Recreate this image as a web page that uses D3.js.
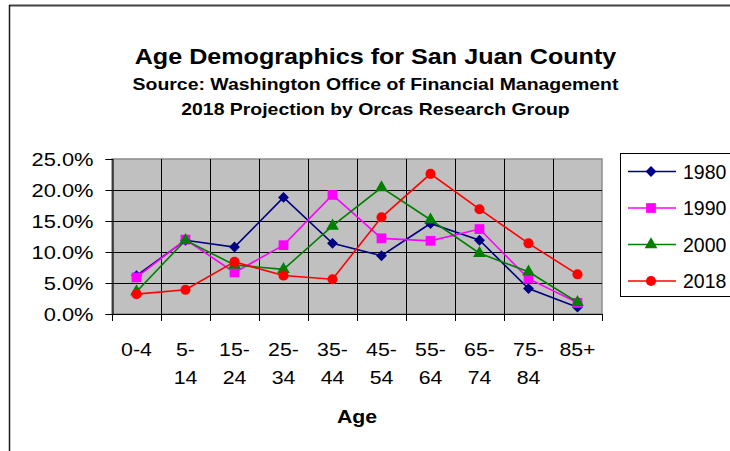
<!DOCTYPE html>
<html>
<head>
<meta charset="utf-8">
<script src="https://cdn.jsdelivr.net/npm/d3@7"></script>
<style>
  body { margin: 0; background: #fff; }
  text { font-family: "Liberation Sans", Arial, sans-serif; fill: #000; }
</style>
</head>
<body>
<script>
//chart data
var ageGroups = ["0-4", "5-14", "15-24", "25-34", "35-44", "45-54", "55-64", "65-74", "75-84", "85+"];
var years = ["1980", "1990", "2000", "2018"];
var pct1980 = [6.2, 11.9, 10.8, 18.8, 11.4, 9.4, 14.6, 11.9, 4.1, 1.1];
var pct1990 = [5.9, 12.0, 6.7, 11.1, 19.2, 12.2, 11.8, 13.7, 5.7, 1.8];
var pct2000 = [3.6, 11.9, 7.9, 7.2, 14.2, 20.4, 15.2, 9.8, 6.8, 1.9];
var pct2018 = [3.2, 3.9, 8.4, 6.2, 5.6, 15.6, 22.6, 16.9, 11.4, 6.4];
var yTicks = [0, 0.05, 0.10, 0.15, 0.20, 0.25];

//square diamond (rotated square) if this d3 build has it
var diamond = d3.symbolDiamond2 || d3.symbolDiamond;

var seriesList = [
    {name: years[0], values: pct1980, color: "#000080", shape: diamond},
    {name: years[1], values: pct1990, color: "#ff00ff", shape: d3.symbolSquare},
    {name: years[2], values: pct2000, color: "#008000", shape: d3.symbolTriangle},
    {name: years[3], values: pct2018, color: "#ff0000", shape: d3.symbolCircle}
];

var width = 730,
    height = 451;

var svg = d3.select("body")
    .append("svg")
    .attr("width", width)
    .attr("height", height);

//the reference font is drawn wider than Arial, so widen glyphs a little
function stretch(sel, factor){
    sel.each(function(){
        var len = this.getComputedTextLength();
        d3.select(this)
            .attr("textLength", len * factor)
            .attr("lengthAdjust", "spacingAndGlyphs");
    });
}

//chart frame (only top and left edges show in the crop)
svg.append("line")
    .attr("x1", 9).attr("x2", width)
    .attr("y1", 5.5).attr("y2", 5.5)
    .attr("stroke", "#404040").attr("stroke-width", 2);
svg.append("line")
    .attr("x1", 9.5).attr("x2", 9.5)
    .attr("y1", 5).attr("y2", height)
    .attr("stroke", "#1a1a1a").attr("stroke-width", 1.5);

//titles
var titles = [
    {t: "Age Demographics for San Juan County", y: 63.5, size: 22},
    {t: "Source: Washington Office of Financial Management", y: 90, size: 17},
    {t: "2018 Projection by Orcas Research Group", y: 115, size: 17}
];
svg.selectAll(".title")
    .data(titles)
    .enter()
    .append("text")
    .attr("class", "title")
    .attr("x", 375.5)
    .attr("y", function(d){ return d.y; })
    .attr("text-anchor", "middle")
    .style("font-weight", "bold")
    .style("font-size", function(d){ return d.size + "px"; })
    .text(function(d){ return d.t; })
    .call(stretch, 1.142);

//scales
var x = d3.scaleBand()
    .domain(ageGroups)
    .range([112, 602])
    .padding(0);

var y = d3.scaleLinear()
    .domain([0, 0.25])
    .range([314, 159]);

var plotLeft = x.range()[0],
    plotRight = x.range()[1];

//plot area
svg.append("rect")
    .attr("x", plotLeft)
    .attr("y", y(0.25))
    .attr("width", plotRight - plotLeft)
    .attr("height", y(0) - y(0.25))
    .attr("fill", "#c0c0c0")
    .attr("stroke", "#8c8c8c")
    .attr("stroke-width", 1.5);

//horizontal gridlines
svg.selectAll(".hgrid")
    .data(yTicks.slice(1, -1))
    .enter()
    .append("line")
    .attr("class", "hgrid")
    .attr("x1", plotLeft).attr("x2", plotRight)
    .attr("y1", function(d){ return Math.round(y(d)) + 0.5; })
    .attr("y2", function(d){ return Math.round(y(d)) + 0.5; })
    .attr("stroke", "#000").attr("stroke-width", 1);

//vertical gridlines at category boundaries, running down as tick marks
var bounds = ageGroups.map(function(c){ return x(c); }).concat([plotRight]);
svg.selectAll(".vgrid")
    .data(bounds)
    .enter()
    .append("line")
    .attr("class", "vgrid")
    .attr("x1", function(d){ return Math.round(d) + 0.5; })
    .attr("x2", function(d){ return Math.round(d) + 0.5; })
    .attr("y1", function(d, i){ return (i == 0 || i == bounds.length - 1) ? y(0) : y(0.25); })
    .attr("y2", y(0) + 7)
    .attr("stroke", "#000").attr("stroke-width", 1);

//x axis baseline
svg.append("line")
    .attr("x1", plotLeft).attr("x2", plotRight)
    .attr("y1", y(0) + 0.5).attr("y2", y(0) + 0.5)
    .attr("stroke", "#000").attr("stroke-width", 1.2);

//y axis
var yAxis = svg.append("g")
    .attr("transform", "translate(" + (plotLeft + 0.5) + ",0)")
    .call(d3.axisLeft(y)
        .tickValues(yTicks)
        .tickFormat(d3.format(".1%"))
        .tickSize(7)
        .tickPadding(12));
yAxis.select(".domain").attr("stroke", "#000").attr("stroke-width", 1.2);
yAxis.selectAll(".tick line").attr("stroke", "#000");
yAxis.selectAll(".tick text")
    .style("font-family", "'Liberation Sans', Arial, sans-serif")
    .style("font-size", "19px")
    .attr("fill", "#000")
    .call(stretch, 1.15);

//x labels in two lines ("5-" over "14")
var labelLines = [];
ageGroups.forEach(function(d){
    var parts = (d.indexOf("-") > 0 && d != "0-4") ? [d.split("-")[0] + "-", d.split("-")[1]] : [d];
    parts.forEach(function(p, i){
        labelLines.push({cat: d, text: p, row: i});
    });
});
svg.selectAll(".xlabel")
    .data(labelLines)
    .enter()
    .append("text")
    .attr("class", "xlabel")
    .attr("x", function(d){ return x(d.cat) + x.bandwidth() / 2; })
    .attr("y", function(d){ return 356 + d.row * 28; })
    .attr("text-anchor", "middle")
    .style("font-size", "19px")
    .text(function(d){ return d.text; })
    .call(stretch, 1.12);

//x axis title
svg.append("text")
    .attr("x", (plotLeft + plotRight) / 2)
    .attr("y", 423)
    .attr("text-anchor", "middle")
    .style("font-weight", "bold")
    .style("font-size", "19px")
    .text("Age")
    .call(stretch, 1.12);

//series lines and markers
var line = d3.line()
    .x(function(d, i){ return x(ageGroups[i]) + x.bandwidth() / 2; })
    .y(function(d){ return y(d / 100); });

function markerSize(shape){
    if (shape == d3.symbolDiamond2) return 75;
    if (shape == d3.symbolDiamond) return 62;
    if (shape == d3.symbolSquare) return 95;
    if (shape == d3.symbolTriangle) return 70;
    return 80;
}

seriesList.forEach(function(s){
    svg.append("path")
        .datum(s.values)
        .attr("d", line)
        .attr("fill", "none")
        .attr("stroke", s.color)
        .attr("stroke-width", 1.6);

    svg.selectAll(".m" + s.name)
        .data(s.values)
        .enter()
        .append("path")
        .attr("class", "m" + s.name)
        .attr("transform", function(d, i){
            return "translate(" + (x(ageGroups[i]) + x.bandwidth() / 2) + "," + y(d / 100) + ")";
        })
        .attr("d", d3.symbol().type(s.shape).size(markerSize(s.shape)))
        .attr("fill", s.color);
});

//legend
var legend = svg.append("g");
legend.append("rect")
    .attr("x", 620.5)
    .attr("y", 153.5)
    .attr("width", 140)
    .attr("height", 143)
    .attr("fill", "#fff")
    .attr("stroke", "#000")
    .attr("stroke-width", 1);

var rows = legend.selectAll(".lrow")
    .data(seriesList)
    .enter()
    .append("g")
    .attr("class", "lrow")
    .attr("transform", function(d, i){ return "translate(0," + (171.5 + i * 36.5) + ")"; });
rows.append("line")
    .attr("x1", 628).attr("x2", 676)
    .attr("stroke", function(d){ return d.color; })
    .attr("stroke-width", 1.6);
rows.append("path")
    .attr("transform", "translate(651,0)")
    .attr("d", function(d){ return d3.symbol().type(d.shape).size(markerSize(d.shape))(); })
    .attr("fill", function(d){ return d.color; });
rows.append("text")
    .attr("x", 683)
    .attr("y", 7)
    .style("font-size", "19.5px")
    .text(function(d){ return d.name; });
</script>
</body>
</html>
